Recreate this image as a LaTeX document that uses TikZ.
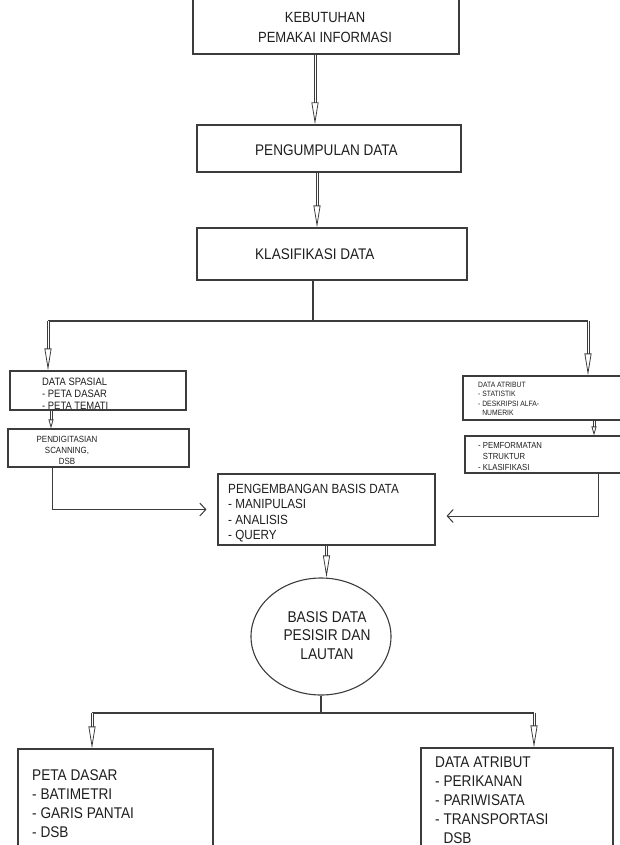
\documentclass[tikz,border=0pt]{standalone}
\usepackage{fontspec}
\setmainfont{Liberation Sans}[FakeStretch=0.88]
\usetikzlibrary{arrows.meta, shapes.geometric}
\definecolor{linecol}{HTML}{3C3C3C}
\definecolor{textcol}{HTML}{1E1E1E}

\begin{document}
\begin{tikzpicture}[x=1pt, y=-1pt]
    \useasboundingbox (0,0) rectangle (620,845);
    \begin{scope}
        \tikzset{
            box/.style={draw=linecol, line width=1.1pt, rectangle, inner sep=0pt},
            boxtext/.style={text=textcol, inner sep=0pt, align=left, anchor=west},
            conn/.style={draw=linecol, line width=1.1pt},
            flow/.style={draw=linecol, line width=1pt, double=white, double distance=1pt,
                -{Triangle[open, length=22pt, width=7pt, line width=0.8pt]}},
            flowsmall/.style={flow, -{Triangle[open, length=9pt, width=5pt, line width=0.8pt]}},
            feed/.style={draw=linecol, line width=1pt, shorten >=11pt,
                -{Straight Barb[length=6pt, width=13pt, line width=1pt]}}
        }
        % Draw the boxes
        \node [box, minimum width=266pt, minimum height=64pt] (kebutuhan) at (326,22) {};
        \node [box, minimum width=264pt, minimum height=47pt] (pengumpulan) at (329,148.5) {};
        \node [box, minimum width=270pt, minimum height=52pt] (klasifikasi) at (332,254) {};
        \node [box, minimum width=176pt, minimum height=39pt] (spasial) at (98,390.5) {};
        \node [box, minimum width=181pt, minimum height=38pt] (digit) at (98.5,448) {};
        \node [box, minimum width=172pt, minimum height=44pt] (atribut) at (549,398) {};
        \node [box, minimum width=170pt, minimum height=37pt] (format) at (550,454.5) {};
        \node [box, minimum width=217pt, minimum height=71pt] (pengembangan) at (326.5,509.5) {};
        \node [box, ellipse, minimum width=140pt, minimum height=117pt] (basis) at (321,636.5) {};
        \node [box, minimum width=195pt, minimum height=121pt] (peta) at (115.5,809.5) {};
        \node [box, minimum width=192pt, minimum height=122pt] (atribut2) at (517,809) {};

        % Label each box
        \node [boxtext, anchor=center, align=center, font=\fontsize{14.8}{20}\selectfont] (kebutuhantxt) at (325,27) {KEBUTUHAN\\PEMAKAI INFORMASI};
        \node [boxtext, font=\fontsize{15.4}{18}\selectfont] (pengumpulantxt) at (255,150) {PENGUMPULAN DATA};
        \node [boxtext, font=\fontsize{15.4}{18}\selectfont] (klasifikasitxt) at (255,254) {KLASIFIKASI DATA};
        \node [boxtext, font=\fontsize{10.7}{12}\selectfont] (spasialtxt) at (42,394) {DATA SPASIAL\\- PETA DASAR\\- PETA TEMATI};
        \node [boxtext, anchor=center, align=center, font=\fontsize{9}{11}\selectfont] (digittxt) at (67,450) {PENDIGITASIAN\\SCANNING,\\DSB};
        \node [boxtext, font=\fontsize{7.7}{9.4}\selectfont] (atributtxt) at (478,399) {DATA ATRIBUT\\- STATISTIK\\- DESKRIPSI ALFA-\\\phantom{- }NUMERIK};
        \node [boxtext, font=\fontsize{8.8}{11}\selectfont] (formattxt) at (478,456) {- PEMFORMATAN\\\phantom{- }STRUKTUR\\- KLASIFIKASI};
        \node [boxtext, font=\fontsize{13.3}{15.3}\selectfont] (pengembangantxt) at (228,513) {PENGEMBANGAN BASIS DATA\\- MANIPULASI\\- ANALISIS\\- QUERY};
        \node [boxtext, anchor=center, align=center, font=\fontsize{15.6}{18.5}\selectfont] (basistxt) at (327,635.5) {BASIS DATA\\PESISIR DAN\\LAUTAN};
        \node [boxtext, font=\fontsize{15.5}{19}\selectfont] (petatxt) at (32,803.5) {PETA DASAR\\- BATIMETRI\\- GARIS PANTAI\\- DSB};
        \node [boxtext, font=\fontsize{15.5}{19}\selectfont] (atribut2txt) at (435,800) {DATA ATRIBUT\\- PERIKANAN\\- PARIWISATA\\- TRANSPORTASI\\\phantom{- }DSB};

        % Branch points
        \coordinate (splitL) at (48,321);
        \coordinate (splitR) at (588,321);
        \coordinate (splitBL) at (92,713);
        \coordinate (splitBR) at (534,713);

        % Main flow
        \draw [flow] ([xshift=-11pt]kebutuhan.south) -- ([xshift=-14pt]pengumpulan.north);
        \draw [flow] ([xshift=-12pt]pengumpulan.south) -- ([xshift=-15pt]klasifikasi.north);
        \draw [conn] ([xshift=-19pt]klasifikasi.south) -- ([xshift=-19pt]klasifikasi.south |- splitL);
        \draw [conn] (splitL) -- (splitR);
        \draw [flow] (splitL) -- (splitL |- spasial.north);
        \draw [flow] (splitR) -- (splitR |- atribut.north);
        \draw [flowsmall] ([xshift=-47pt]spasial.south) -- ([xshift=-47.5pt]digit.north);
        \draw [flowsmall] ([xshift=45pt]atribut.south) -- ([xshift=44pt]format.north);

        % Into the database
        \draw [feed] ([xshift=-46.5pt]digit.south) |- (pengembangan.west);
        \draw [feed] ([xshift=48pt]format.south) |- ([yshift=-6.5pt]pengembangan.east);
        \draw [flow] (pengembangan.south) -- (pengembangan.south |- basis.north);

        % Output branches
        \draw [conn] (basis.south) -- (basis.south |- splitBL);
        \draw [conn] (splitBL) -- (splitBR);
        \draw [flow] (splitBL) -- (splitBL |- peta.north);
        \draw [flow] (splitBR) -- (splitBR |- atribut2.north);
    \end{scope}
\end{tikzpicture}
\end{document}
